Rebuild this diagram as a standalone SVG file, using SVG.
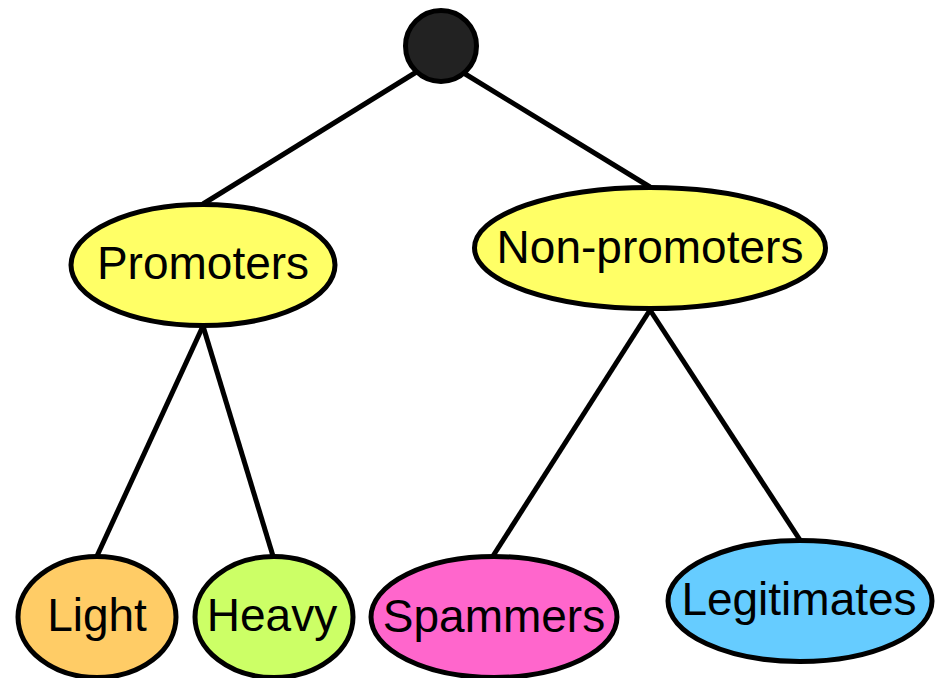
<svg xmlns="http://www.w3.org/2000/svg" width="944" height="678" viewBox="0 0 944 678">
  <style>
    .edge { stroke: #000; stroke-width: 5; fill: none; }
    .node { stroke: #000; stroke-width: 5; }
    .label { font-family: "Liberation Sans", Arial, sans-serif; font-size: 46px; fill: #000; text-anchor: middle; }
  </style>
  <rect width="944" height="678" fill="#fff"/>
  <g id="connectors">
    <line class="edge" x1="418" y1="71" x2="203" y2="204"/>
    <line class="edge" x1="462" y1="72" x2="650" y2="187"/>
    <line class="edge" x1="203" y1="326" x2="97" y2="556"/>
    <line class="edge" x1="203" y1="326" x2="273" y2="556"/>
    <line class="edge" x1="650" y1="310" x2="493" y2="556"/>
    <line class="edge" x1="650" y1="310" x2="800" y2="540"/>
  </g>
  <g id="root">
    <circle class="node" cx="441" cy="46" r="35.5" fill="#222"/>
  </g>
  <g id="promoters">
    <ellipse class="node" cx="203" cy="265" rx="132" ry="60.5" fill="#ffff66"/>
    <text class="label" x="203" y="279">Promoters</text>
  </g>
  <g id="non-promoters">
    <ellipse class="node" cx="650" cy="248" rx="175.5" ry="60.5" fill="#ffff66"/>
    <text class="label" x="650" y="263">Non-promoters</text>
  </g>
  <g id="light">
    <ellipse class="node" cx="97" cy="617" rx="79" ry="60.5" fill="#ffcc66"/>
    <text class="label" x="97" y="631">Light</text>
  </g>
  <g id="heavy">
    <ellipse class="node" cx="274" cy="617" rx="79" ry="60.5" fill="#ccff66"/>
    <text class="label" x="272" y="631">Heavy</text>
  </g>
  <g id="spammers">
    <ellipse class="node" cx="494" cy="617" rx="123" ry="60.5" fill="#ff66cc"/>
    <text class="label" x="494" y="632">Spammers</text>
  </g>
  <g id="legitimates">
    <ellipse class="node" cx="800" cy="601" rx="132" ry="60.5" fill="#66ccff"/>
    <text class="label" x="799" y="615">Legitimates</text>
  </g>
</svg>
